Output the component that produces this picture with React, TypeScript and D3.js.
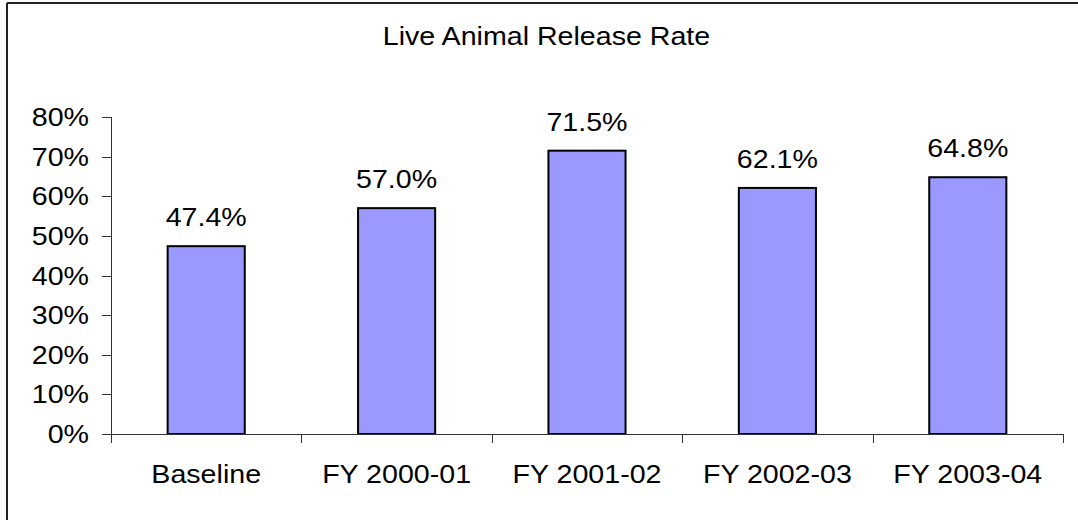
import React from "react";
import * as d3 from "d3";

const title = "Live Animal Release Rate";
const categories = ["Baseline", "FY 2000-01", "FY 2001-02", "FY 2002-03", "FY 2003-04"];
const values = [47.4, 57.0, 71.5, 62.1, 64.8];
const yTicks = [0, 10, 20, 30, 40, 50, 60, 70, 80];

const W = 1078;
const H = 520;
const plot = { left: 111, right: 1063, top: 117, bottom: 434 };
const FONT = "'Liberation Sans', Arial, sans-serif";
const FS = 26;
const SX = 1.1;

function T(props: { x: number; y: number; anchor?: string; dy?: string; children: React.ReactNode }) {
  return (
    <text
      transform={`translate(${props.x},${props.y}) scale(${SX},1)`}
      textAnchor={props.anchor || "middle"}
      dy={props.dy}
      fontSize={FS}
      fill="#000"
    >
      {props.children}
    </text>
  );
}

export default function App() {
  const x = d3.scaleBand<string>().domain(categories).range([plot.left, plot.right]).paddingInner(0.595).paddingOuter(0.2975);
  const xb = d3.scaleBand<string>().domain(categories).range([plot.left, plot.right]);
  const y = d3.scaleLinear().domain([0, 80]).range([plot.bottom, plot.top]);
  const fmt = (v: number) => v.toFixed(1) + "%";

  return (
    <svg width={W} height={H} style={{ position: "absolute", left: 0, top: 0, background: "#fff" }} fontFamily={FONT}>
      <line x1={7} y1={3} x2={W} y2={3} stroke="#222" strokeWidth={2} />
      <line x1={7} y1={3} x2={7} y2={H} stroke="#222" strokeWidth={2} />
      <T x={546.5} y={45}>{title}</T>

      {/* y axis */}
      <line x1={plot.left + 0.5} y1={plot.top} x2={plot.left + 0.5} y2={plot.bottom} stroke="#333" strokeWidth={1} />
      {yTicks.map((t) => (
        <g key={t}>
          <line x1={102} x2={plot.left} y1={Math.round(y(t)) + 0.5} y2={Math.round(y(t)) + 0.5} stroke="#333" />
          <T x={89} y={y(t)} dy="0.35em" anchor="end">{t}%</T>
        </g>
      ))}

      {/* bars */}
      {categories.map((c, i) => (
        <g key={c}>
          <rect x={x(c)} y={y(values[i])} width={x.bandwidth()} height={plot.bottom - y(values[i])} fill="#9999FF" stroke="#000" strokeWidth={2} />
          <T x={x(c)! + x.bandwidth() / 2} y={y(values[i]) - 20}>{fmt(values[i])}</T>
        </g>
      ))}

      {/* x axis */}
      <line x1={plot.left} x2={plot.right} y1={plot.bottom + 0.5} y2={plot.bottom + 0.5} stroke="#333" />
      {[...categories.map((c) => xb(c)!), plot.right].map((tx, i) => (
        <line key={i} x1={Math.round(tx) + 0.5} x2={Math.round(tx) + 0.5} y1={plot.bottom} y2={443} stroke="#333" />
      ))}
      {categories.map((c) => (
        <T key={c} x={xb(c)! + xb.bandwidth() / 2} y={483}>{c}</T>
      ))}
    </svg>
  );
}
